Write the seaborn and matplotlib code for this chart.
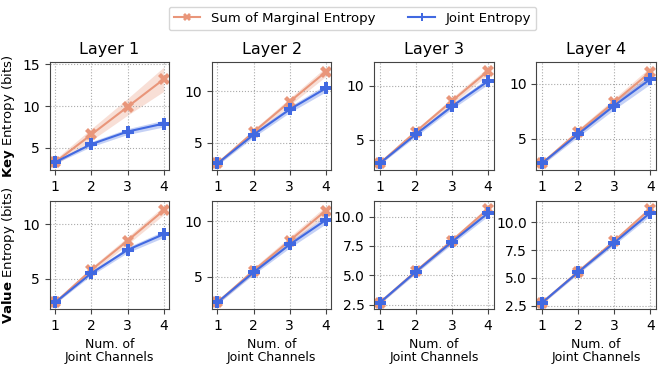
import numpy as np
import pandas as pd
import seaborn as sns
import matplotlib.pyplot as plt
from matplotlib.ticker import MultipleLocator

channels = [1, 2, 3, 4]
layers = ["Layer 1", "Layer 2", "Layer 3", "Layer 4"]

# key entropy (mean, std) per layer
key_sum = [[3.3, 6.6, 9.9, 13.2], [3.0, 6.05, 9.0, 11.9], [2.8, 5.75, 8.6, 11.4], [2.75, 5.6, 8.3, 11.05]]
key_sum_std = [[0.35, 0.7, 1.0, 1.45], [0.15, 0.25, 0.35, 0.45], [0.15, 0.2, 0.3, 0.35], [0.15, 0.25, 0.35, 0.45]]
key_joint = [[3.3, 5.45, 6.95, 7.9], [3.0, 5.8, 8.25, 10.3], [2.8, 5.5, 8.1, 10.45], [2.75, 5.4, 8.0, 10.4]]
key_joint_std = [[0.15, 0.3, 0.35, 0.4], [0.15, 0.25, 0.3, 0.35], [0.1, 0.2, 0.25, 0.3], [0.15, 0.25, 0.35, 0.45]]

# value entropy
val_sum = [[2.8, 5.8, 8.5, 11.3], [2.7, 5.55, 8.25, 10.95], [2.65, 5.35, 7.95, 10.65], [2.75, 5.55, 8.3, 11.2]]
val_sum_std = [[0.15, 0.25, 0.35, 0.4], [0.15, 0.25, 0.35, 0.4], [0.1, 0.15, 0.2, 0.25], [0.1, 0.15, 0.2, 0.25]]
val_joint = [[2.8, 5.5, 7.65, 9.1], [2.7, 5.4, 7.9, 10.1], [2.65, 5.3, 7.85, 10.3], [2.75, 5.5, 8.15, 10.85]]
val_joint_std = [[0.1, 0.2, 0.25, 0.3], [0.15, 0.2, 0.3, 0.35], [0.1, 0.15, 0.2, 0.25], [0.1, 0.15, 0.2, 0.25]]

c_sum = "darksalmon"
c_joint = "royalblue"

fig, axes = plt.subplots(2, 4, figsize=(6.65, 3.66), dpi=100)
plt.subplots_adjust(left=0.075, right=0.986, top=0.83, bottom=0.156, wspace=0.36, hspace=0.29)

rows = [(key_sum, key_sum_std, key_joint, key_joint_std, "Key"),
        (val_sum, val_sum_std, val_joint, val_joint_std, "Value")]

for r, (s, ss, j, js, name) in enumerate(rows):
    for c in range(4):
        ax = axes[r, c]
        x = np.array(channels)
        for m, sd, col, mk, lab in [(s[c], ss[c], c_sum, "X", "Sum of Marginal Entropy"),
                                    (j[c], js[c], c_joint, "P", "Joint Entropy")]:
            m = np.array(m)
            sd = np.array(sd)
            sns.lineplot(x=x, y=m, ax=ax, color=col, marker=mk, markersize=9,
                         markeredgewidth=0, linewidth=1.5, label=lab, legend=False)
            ax.fill_between(x, m - sd, m + sd, color=col, alpha=0.3, linewidth=0)
        ax.set_xticks(channels)
        if r == 1 and c >= 2:
            ax.yaxis.set_major_locator(MultipleLocator(2.5))
        ax.grid(True, linestyle=":", color="#aaaaaa", linewidth=0.8)
        ax.tick_params(labelsize=10, color="#444444")
        for sp in ax.spines.values():
            sp.set_color("#444444")
        if r == 0:
            ax.set_title(layers[c], fontsize=11.5)
        else:
            ax.set_xlabel("Num. of\nJoint Channels", fontsize=9, linespacing=1.0)
        if c == 0:
            ax.set_ylabel(r"$\bf{" + name + r"}$ Entropy (bits)", fontsize=9.5)

handles, labels = axes[0, 0].get_legend_handles_labels()
fig.legend(handles, labels, loc="upper center", ncol=2, bbox_to_anchor=(0.53, 1.0),
           fontsize=9.5, frameon=True, handlelength=2, markerscale=0.7, columnspacing=2.5)

fig.savefig("out.png", dpi=100)
